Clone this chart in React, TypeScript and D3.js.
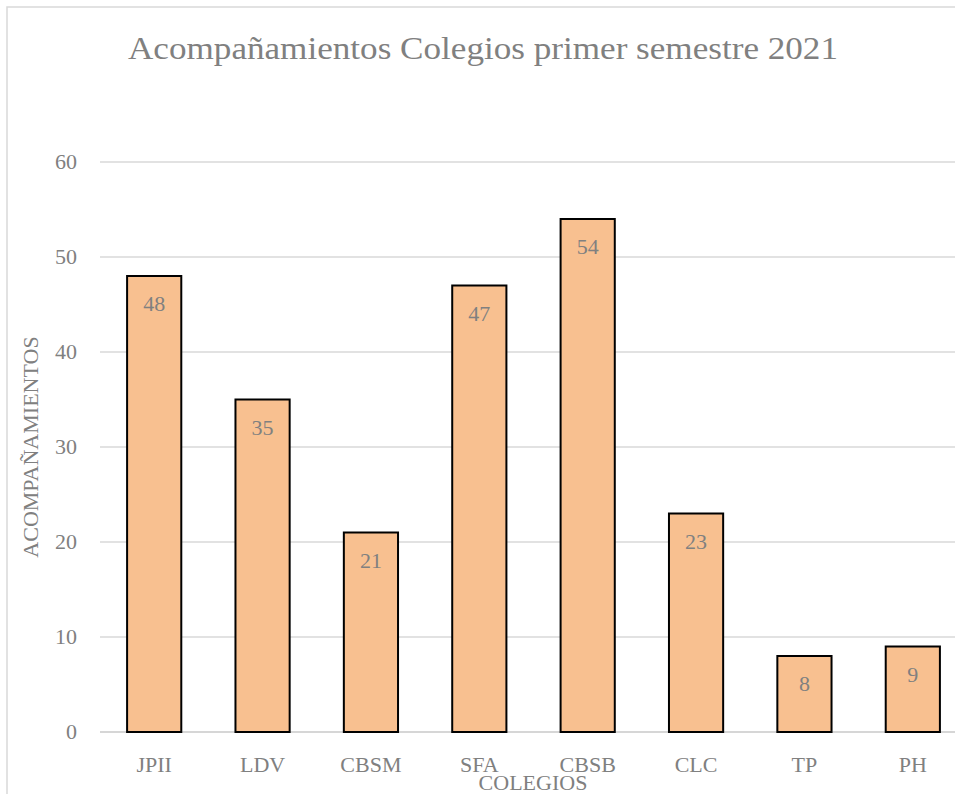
import React from "react";
import * as d3 from "d3";

const categories = ["JPII", "LDV", "CBSM", "SFA", "CBSB", "CLC", "TP", "PH"];
const values = [48, 35, 21, 47, 54, 23, 8, 9];
const yTicks = [0, 10, 20, 30, 40, 50, 60];
const title = "Acompañamientos Colegios primer semestre 2021";
const xTitle = "COLEGIOS";
const yTitle = "ACOMPAÑAMIENTOS";

const W = 955;
const H = 794;
const FONT = "'Liberation Serif', 'DejaVu Serif', serif";
const TXT = "#808080";

export default function App() {
  const x = d3.scaleBand<string>().domain(categories).range([100, 967]).paddingInner(0.5).paddingOuter(0.25);
  const y = d3.scaleLinear().domain([0, 60]).range([732, 162]);
  const bw = x.bandwidth();
  return (
    <svg
      width={W}
      height={H}
      style={{ position: "absolute", left: 0, top: 0, background: "#fff" }}
      fontFamily={FONT}
    >
      <rect x={7} y={7} width={1000} height={900} fill="#fff" stroke="#d9d9d9" strokeWidth={1.5} />
      <text x={483} y={59} textAnchor="middle" fontSize={31} fill={TXT} textLength={710} lengthAdjust="spacingAndGlyphs">
        {title}
      </text>
      {yTicks.map((t) => (
        <g key={t}>
          <line x1={100} x2={967} y1={y(t)} y2={y(t)} stroke={t === 0 ? "#c8c8c8" : "#d9d9d9"} strokeWidth={1.5} />
          <text x={77} y={y(t) + 7} textAnchor="end" fontSize={22} fill={TXT}>
            {t}
          </text>
        </g>
      ))}
      {categories.map((c, i) => (
        <g key={c}>
          <rect
            x={x(c)!}
            y={y(values[i])}
            width={bw}
            height={y(0) - y(values[i])}
            fill="#F8C090"
            stroke="#000"
            strokeWidth={2}
          />
          <text x={x(c)! + bw / 2} y={y(values[i]) + 35} textAnchor="middle" fontSize={22} fill={TXT}>
            {values[i]}
          </text>
          <text x={x(c)! + bw / 2} y={772} textAnchor="middle" fontSize={22} fill={TXT}>
            {c}
          </text>
        </g>
      ))}
      <text x={533} y={790} textAnchor="middle" fontSize={22} fill={TXT}>
        {xTitle}
      </text>
      <text
        transform={`translate(38, 447) rotate(-90)`}
        textAnchor="middle"
        fontSize={22}
        fill={TXT}
      >
        {yTitle}
      </text>
    </svg>
  );
}
